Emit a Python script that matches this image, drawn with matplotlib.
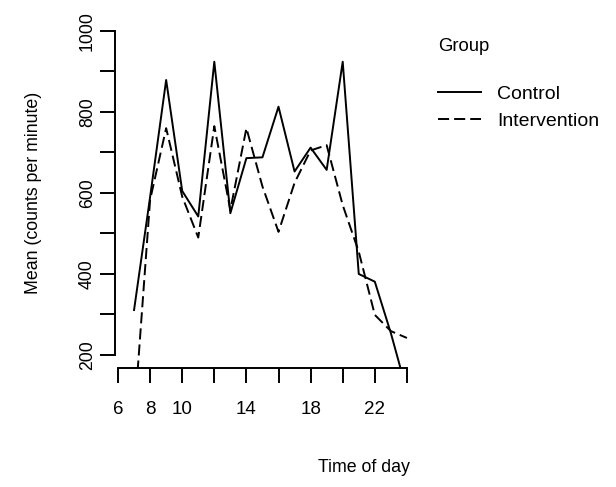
"""plot.py: mean activity counts by hour, control vs intervention"""
import matplotlib
matplotlib.use("Agg")
import matplotlib.pyplot as plt

plt.rcParams['font.family'] = ['Liberation Sans', 'DejaVu Sans']
plt.rcParams['lines.scale_dashes'] = False

LABEL_SIZE = 12.8
TICK_SIZE = 13.5
LEGEND_SIZE = 14
LINE_W = 1.4
DASHES = (8, 3.6)

hours = list(range(7, 25))
control = [311, 590, 879, 605, 542, 924, 550, 686, 688, 813,
           653, 712, 657, 924, 400, 381, 254, 110]
intervention = [40, 583, 760, 591, 490, 765, 558, 760, 616, 504,
                625, 705, 718, 570, 455, 299, 259, 242]

x_ticks = list(range(6, 25, 2))
x_labels = ['6', '8', '10', '', '14', '', '18', '', '22', '']
y_ticks = [200, 300, 400, 500, 600, 700, 800, 900, 1000]
y_labels = ['200', '', '400', '', '600', '', '800', '', '1000']

W, H = 616, 487
fig = plt.figure(figsize=(W / 100, H / 100), dpi=100)
# plot region in pixels: left 115, right 613, top 18, bottom 367.7
ax = fig.add_axes([115 / W, 1 - 367.7 / H, (613 - 115) / W, (367.7 - 18) / H])

ax.plot(hours, control, color='black', lw=LINE_W, label='Control')
ax.plot(hours, intervention, color='black', lw=LINE_W, dashes=DASHES,
        label='Intervention')

ax.set_xlim(5.813, 36.84)
ax.set_ylim(168.6, 1032)

for side in ('top', 'right'):
    ax.spines[side].set_visible(False)
ax.spines['left'].set_bounds(200, 1000)
ax.spines['bottom'].set_bounds(6, 24)
for side in ('left', 'bottom'):
    ax.spines[side].set_linewidth(LINE_W)

ax.set_xticks(x_ticks)
ax.set_xticklabels(x_labels, fontsize=TICK_SIZE)
ax.set_yticks(y_ticks)
ax.set_yticklabels(y_labels, fontsize=TICK_SIZE - 0.8, rotation=90)
for lab in ax.get_yticklabels():
    lab.set_va('center')
    lab.set_ha('right')
ax.tick_params(axis='both', direction='out', length=10.8, width=LINE_W)
ax.tick_params(axis='x', pad=13)
ax.tick_params(axis='y', pad=3)

ax.set_xlabel('Time of day', fontsize=LABEL_SIZE, va='center')
ax.xaxis.set_label_coords(0.5, (367.7 - 467) / (367.7 - 18))
ax.set_ylabel('Mean (counts per minute)', fontsize=LABEL_SIZE, va='center')
ax.yaxis.set_label_coords((34 - 115) / (613 - 115), 0.5)

leg = ax.legend(title='Group', loc='upper left',
                bbox_to_anchor=(438 / W, 1 - 38 / H),
                bbox_transform=fig.transFigure, frameon=False,
                fontsize=LEGEND_SIZE, title_fontsize=13.3,
                handlelength=2.2, handletextpad=0.85, labelspacing=0.45,
                alignment='left', borderpad=0, borderaxespad=0)
leg._legend_box.sep = 22

fig.savefig('out.png', dpi=100)
